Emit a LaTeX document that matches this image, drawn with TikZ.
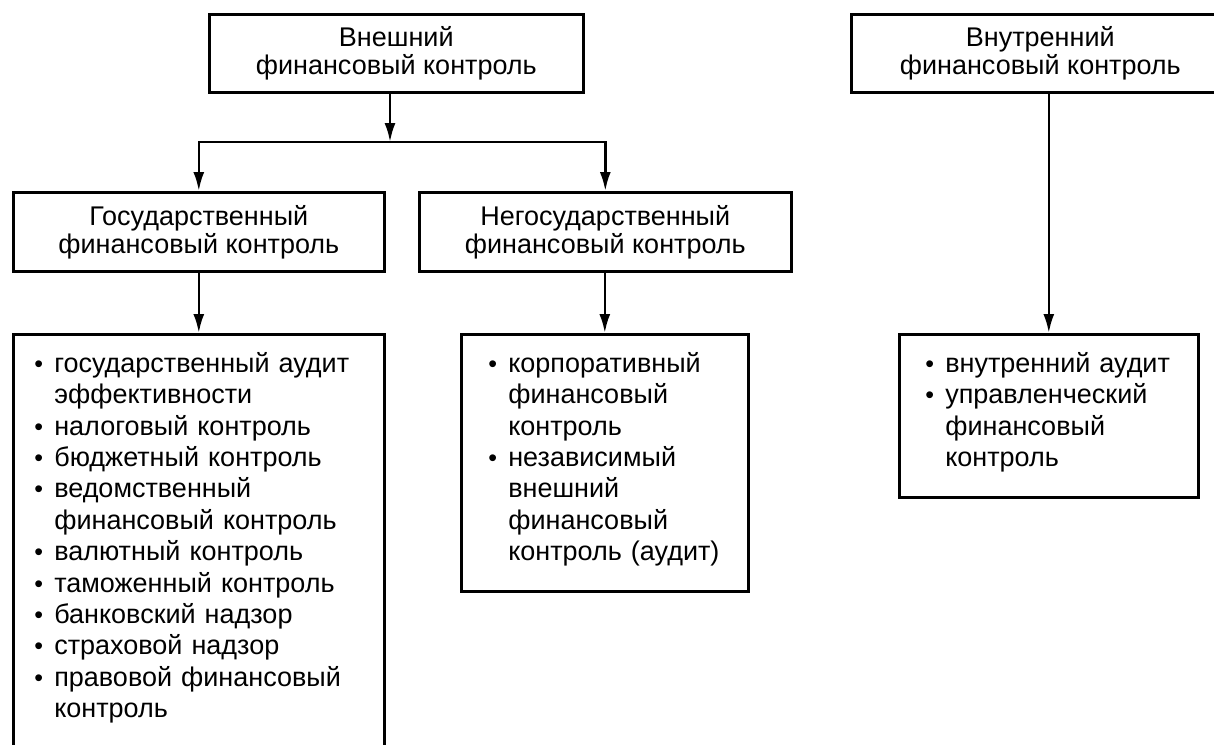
\documentclass[tikz,border=0pt]{standalone}
\usepackage{fontspec}
\setmainfont{Liberation Sans}
\usetikzlibrary{arrows.meta}

\tikzset{
  box/.style={draw, line width=2.6pt, anchor=north west, align=center,
    inner sep=0pt, font=\fontsize{27}{28}\selectfont},
  listbox/.style={draw, line width=2.6pt, anchor=north west, align=left,
    inner xsep=21pt, inner ysep=18pt, text height=20pt,
    font=\fontsize{27}{31.4}\selectfont},
}
\newcommand{\bl}{\makebox[20pt][l]{\fontsize{25}{25}\selectfont\textbullet}}
\newcommand{\ct}{\hspace*{20pt}}

\begin{document}
\begin{tikzpicture}[x=1pt,y=-1pt,>={Latex[length=19pt,width=11pt]},line width=2.6pt]
  \useasboundingbox (0,0) rectangle (1214,744);
  \clip (0,0) rectangle (1214,744);
  \node[box, minimum width=374pt, minimum height=78pt] (ext) at (208,13)
    {Внешний\\финансовый контроль};
  \node[box, minimum width=378pt, minimum height=78pt] (int) at (850,13)
    {Внутренний\\финансовый контроль};
  \node[box, minimum width=371pt, minimum height=79pt] (gos) at (12,191)
    {Государственный\\финансовый контроль};
  \node[box, minimum width=372pt, minimum height=79pt] (neg) at (418,191)
    {Негосударственный\\финансовый контроль};
  \node[listbox, text width=329pt, text depth=400pt] (goslist) at (12,333)
    {\bl государственный аудит\\
     \ct эффективности\\
     \bl налоговый контроль\\
     \bl бюджетный контроль\\
     \bl ведомственный\\
     \ct финансовый контроль\\
     \bl валютный контроль\\
     \bl таможенный контроль\\
     \bl банковский надзор\\
     \bl страховой надзор\\
     \bl правовой финансовый\\
     \ct контроль};
  \node[listbox, inner xsep=27pt, text width=233pt, text depth=201pt] (neglist) at (460,333)
    {\bl корпоративный\\
     \ct финансовый\\
     \ct контроль\\
     \bl независимый\\
     \ct внешний\\
     \ct финансовый\\
     \ct контроль (аудит)};
  \node[listbox, inner xsep=26pt, text width=247pt, text depth=107pt] (intlist) at (898,333)
    {\bl внутренний аудит\\
     \bl управленческий\\
     \ct финансовый\\
     \ct контроль};
  \coordinate (fork) at (390,142);
  \draw[->] (ext.south -| fork) -- (fork);
  \draw[->] (fork) -| (gos.north);
  \draw[->] (fork) -| (neg.north);
  \draw[->] (gos) -- (goslist);
  \draw[->] (neg.south -| neglist.north) -- (neglist.north);
  \draw[->] (int.south -| intlist.north) -- (intlist.north);
\end{tikzpicture}
\end{document}
